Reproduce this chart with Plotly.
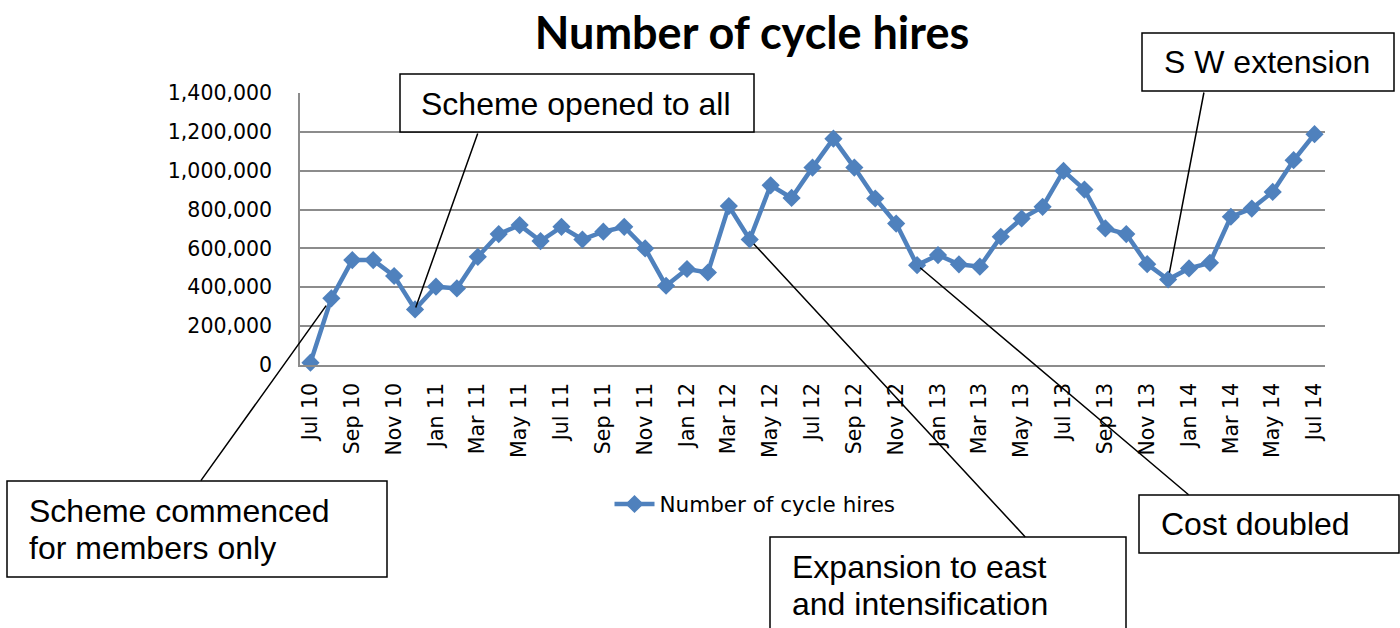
import plotly.graph_objects as go

months = ["Jul 10", "Aug 10", "Sep 10", "Oct 10", "Nov 10", "Dec 10",
          "Jan 11", "Feb 11", "Mar 11", "Apr 11", "May 11", "Jun 11",
          "Jul 11", "Aug 11", "Sep 11", "Oct 11", "Nov 11", "Dec 11",
          "Jan 12", "Feb 12", "Mar 12", "Apr 12", "May 12", "Jun 12",
          "Jul 12", "Aug 12", "Sep 12", "Oct 12", "Nov 12", "Dec 12",
          "Jan 13", "Feb 13", "Mar 13", "Apr 13", "May 13", "Jun 13",
          "Jul 13", "Aug 13", "Sep 13", "Oct 13", "Nov 13", "Dec 13",
          "Jan 14", "Feb 14", "Mar 14", "Apr 14", "May 14", "Jun 14",
          "Jul 14"]

hires = [12000, 343000, 540000, 540000, 458000, 286000,
         403000, 394000, 557000, 674000, 720000, 638000,
         711000, 646000, 686000, 711000, 600000, 408000,
         494000, 476000, 818000, 646000, 925000, 860000,
         1016000, 1165000, 1016000, 857000, 728000, 514000,
         566000, 518000, 506000, 660000, 754000, 814000,
         999000, 903000, 703000, 674000, 519000, 440000,
         497000, 526000, 763000, 805000, 891000, 1054000,
         1188000]

tick_labels = months[::2]
y_ticks = [0, 200000, 400000, 600000, 800000, 1000000, 1200000, 1400000]

# annotation events: (month, text lines)
event_months = ["Aug 10", "Dec 10", "Apr 12", "Dec 12", "Dec 13"]
event_texts = [["Scheme commenced", "for members only"], ["Scheme opened to all"],
               ["Expansion to east", "and intensification"], ["Cost doubled"],
               ["S W extension"]]

# ---- layout geometry (pixels) ----
W, H = 1400, 628
ML, MR, MT, MB = 300, 75, 93, 263
PW, PH = W - ML - MR, H - MT - MB

def px(x):
    return (x - ML) / PW

def py(y):
    return (H - MB - y) / PH

# box rectangles (x0, y0, x1, y1), text left, first line center y
boxes = [
    (7, 481, 387, 577, 27, 511),
    (400, 74, 754, 132, 419, 104),
    (770, 537, 1126, 660, 790, 567),
    (1139, 495, 1399, 553, 1159, 524),
    (1142, 33, 1394, 91, 1162, 62),
]
LINE_GAP = 37
# leader offsets from data point (ax, ay) and standoff
leaders = [(-131, 183, 9), (63, -177, 2), (276, 298, 6), (272, 230, 4), (36, -188, 7)]

BLUE = "#4F81BD"
GRID = "#8c8c8c"
TICKFONT = dict(family="DejaVu Sans", size=20.5, color="#000000")

fig = go.Figure()
fig.add_trace(go.Scatter(
    x=months, y=hires, mode="lines+markers", name="Number of cycle hires",
    line=dict(color=BLUE, width=4.5),
    marker=dict(symbol="diamond", size=14, color=BLUE),
    cliponaxis=False,
))

shapes = []
annotations = []
for (x0, y0, x1, y1, tx, ty), lines in zip(boxes, event_texts):
    shapes.append(dict(type="rect", xref="paper", yref="paper",
                       x0=px(x0), x1=px(x1), y0=py(y0), y1=py(y1),
                       line=dict(color="#000000", width=1.5),
                       fillcolor="#ffffff", layer="above"))
    for k, txt in enumerate(lines):
        annotations.append(dict(xref="paper", yref="paper", x=px(tx), y=py(ty + k * LINE_GAP),
                                xanchor="left", yanchor="middle", align="left",
                                text=txt, showarrow=False,
                                font=dict(family="Liberation Sans", size=32, color="#000000")))

for m, (ax, ay, so) in zip(event_months, leaders):
    i = months.index(m)
    annotations.append(dict(x=m, y=hires[i], xref="x", yref="y",
                            text=" ", showarrow=True, arrowhead=0,
                            ax=ax, ay=ay, axref="pixel", ayref="pixel",
                            arrowwidth=1.5, arrowcolor="#000000",
                            standoff=so, font=dict(size=1), borderpad=0))

fig.update_layout(
    width=W, height=H,
    margin=dict(l=ML, r=MR, t=MT, b=MB),
    paper_bgcolor="#ffffff", plot_bgcolor="#ffffff",
    title=dict(text="<b>Number of cycle hires</b>", x=752 / W, y=1 - 33 / H,
               xanchor="center", yanchor="middle", xref="container", yref="container",
               font=dict(family="Lato", size=45, color="#000000")),
    showlegend=True,
    legend=dict(orientation="h", x=px(755), y=py(504), xanchor="center", yanchor="middle",
                font=dict(family="DejaVu Sans", size=21.5, color="#000000"),
                bgcolor="rgba(0,0,0,0)", itemwidth=40),
    shapes=shapes,
    annotations=annotations,
    xaxis=dict(type="category", range=[-0.5, len(months) - 0.5],
               tickmode="array", tickvals=tick_labels, ticktext=tick_labels,
               tickangle=-90, tickfont=TICKFONT, showgrid=False,
               showline=True, linecolor=GRID, linewidth=1.5,
               ticks="", ticklabelstandoff=8, zeroline=False),
    yaxis=dict(range=[0, 1400000], tickmode="array", tickvals=y_ticks,
               tickformat=",", tickfont=TICKFONT, showgrid=True,
               gridcolor=GRID, gridwidth=1.5, showline=True, linecolor=GRID,
               linewidth=1.5, ticks="", ticklabelstandoff=22, zeroline=False),
)

fig.write_html("out.html", config={"displayModeBar": False},
               post_script="document.body.style.margin='0';document.body.style.overflow='hidden';")
